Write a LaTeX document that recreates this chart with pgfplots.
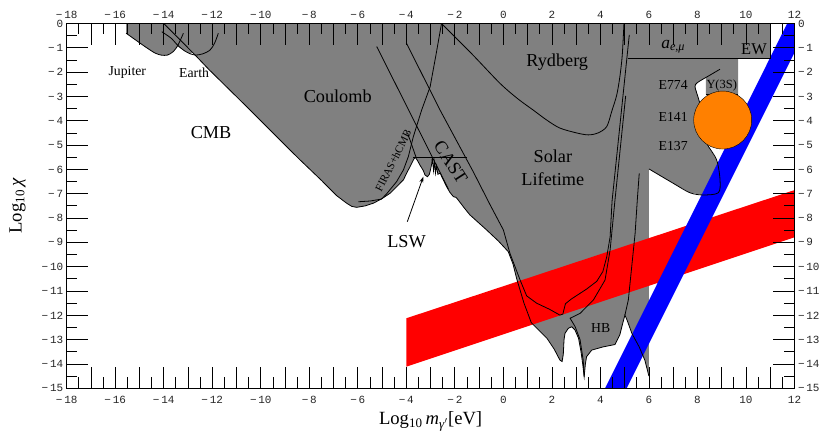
\documentclass[border=0pt]{standalone}
\usepackage{fontspec}
\setmainfont{Liberation Serif}
\newfontfamily\monofont{Liberation Mono}
\usepackage{pgfplots}
\pgfplotsset{compat=1.18}
\usetikzlibrary{arrows.meta}
\definecolor{myorange}{RGB}{255,128,0}
\definecolor{mygray}{RGB}{128,128,128}
\tikzset{
  big/.style={font=\fontsize{18.3}{23}\selectfont},
  lab/.style={font=\fontsize{18.7}{23}\selectfont},
  mid/.style={font=\fontsize{13.8}{15}\selectfont},
  bl/.style={black, line width=0.8bp},
}
\pgfplotsset{
  base/.style={
    scale only axis, width=727.8bp, height=364.8bp,
    xmin=-18, xmax=12, ymin=-15, ymax=0,
    axis on top, tick align=inside,
    xtick={-18,-16,...,12},
    extra x ticks={-17,-15,...,11}, extra x tick labels={},
    minor xtick={-17.5,-16.5,...,11.5},
    ytick={-15,-14,...,0},
    minor ytick={-14.5,-13.5,...,-0.5},
    major tick length=21.7bp, minor tick length=10.8bp,
    every tick/.style={black, line width=0.8bp},
    axis line style={black, line width=0.8bp},
    xticklabels={−\,18,−\,16,−\,14,−\,12,−\,10,−\,8,−\,6,−\,4,−\,2,0,2,4,6,8,10,12},
    yticklabels={−\,15,−\,14,−\,13,−\,12,−\,11,−\,10,−\,9,−\,8,−\,7,−\,6,−\,5,−\,4,−\,3,−\,2,−\,1,0},
    tick label style={font=\monofont\fontsize{11}{12}\selectfont, text=black!85},
  },
}
\begin{document}
\begin{tikzpicture}
\begin{axis}[base, name=main,
  xticklabel style={yshift=-4bp},
  xlabel={Log\textsubscript{10}\,\textit{m}\textsubscript{\textit{γ}$'$}[eV]},
  ylabel={Log\textsubscript{10}\,\textit{χ}},
  xlabel style={lab, at={(axis description cs:0.5,-0.1)}, anchor=base},
  ylabel style={lab, at={(axis description cs:-0.0618,0.5)}, anchor=base},
]
% gray excluded region
\addplot[fill=mygray, draw=none] coordinates {
(-15.55,0) (-15.55,-0.4) (-15.1,-0.72) (-14.7,-1.0) (-14.35,-1.22) (-14.1,-1.3) (-13.85,-1.3) (-13.6,-1.15) (-13.42,-0.95) (-13.15,-1.12) (-12.9,-1.25) (-12.8,-1.2) (-12.15,-1.88) (-10.5,-3.5) (-8.93,-5.07) (-8.38,-5.61) (-7.5,-6.45) (-6.87,-7.08) (-6.46,-7.39) (-6.25,-7.52) (-6.05,-7.56) (-5.7,-7.5) (-5.36,-7.39) (-5.0,-7.2) (-4.67,-6.98) (-4.4,-6.71) (-4.12,-6.43) (-3.99,-6.16) (-3.85,-5.89) (-3.71,-5.61) (-3.64,-5.5) (-3.55,-5.62) (-3.44,-5.82) (-3.3,-6.05) (-3.23,-6.23) (-3.13,-6.3) (-3.05,-6.2) (-3.0,-6.0) (-2.95,-5.75) (-2.93,-5.5) (-2.88,-6.05) (-2.84,-5.7) (-2.8,-6.15) (-2.76,-5.85) (-2.7,-6.2) (-2.6,-6.15) (-2.54,-6.3) (-2.34,-6.71) (-2.2,-6.95) (-2.06,-7.12) (-1.95,-7.15) (-1.86,-7.26) (-1.6,-7.6) (-1.38,-7.87) (-0.69,-8.49) (-0.2,-8.95) (0.2,-9.38) (0.4,-9.9) (0.55,-10.5) (0.85,-11.5) (1.15,-12.3) (1.5,-12.65) (1.8,-12.95) (2.1,-13.4) (2.33,-13.84) (2.42,-13.9) (2.47,-13.6) (2.5,-13.0) (2.54,-12.74) (2.68,-12.53) (2.82,-12.47) (2.95,-12.6) (3.1,-12.95) (3.2,-13.5) (3.27,-14.0) (3.33,-14.52) (3.38,-14.0) (3.43,-13.7) (3.64,-13.43) (4.1,-13.3) (4.6,-13.2) (4.8,-12.8) (4.9,-12.4) (5.01,-11.99) (5.1,-12.2) (5.3,-12.75) (5.6,-13.3) (5.83,-13.84) (6.0,-14.5) (6.0,-5.98) (7.0,-6.57) (7.69,-6.96) (8.24,-7.05) (8.86,-6.96) (8.93,-6.43) (8.79,-5.61) (8.38,-4.93) (8.24,-4.45) (8.24,-3.83) (8.04,-3.08) (7.9,-2.6) (8.0,-2.43) (8.35,-2.22) (8.35,-2.91) (9.68,-2.91) (9.68,-1.43) (11,-1.43) (11,0)
} -- cycle;
% red band
\addplot[fill=red, draw=none] coordinates {(-4,-12.12) (12,-6.85) (12,-8.79) (-4,-14.11)} -- cycle;
% blue band
\addplot[fill=blue, draw=none] coordinates {(4.19,-15) (11.7,0) (12.6,0) (5.08,-15)} -- cycle;
% orange blob
\addplot[only marks, mark=*, mark size=29bp, mark options={fill=myorange, draw=none}] coordinates {(9.04,-3.97)};
% outline of the gray region
\addplot[bl] coordinates {
(-14,0) (-12.8,-1.2) (-12.15,-1.88) (-10.5,-3.5) (-8.93,-5.07) (-8.38,-5.61) (-7.5,-6.45) (-6.87,-7.08) (-6.46,-7.39) (-6.25,-7.52) (-6.05,-7.56) (-5.7,-7.5) (-5.36,-7.39) (-5.0,-7.2) (-4.67,-6.98) (-4.4,-6.71) (-4.12,-6.43) (-3.99,-6.16) (-3.85,-5.89) (-3.71,-5.61) (-3.64,-5.5) (-3.55,-5.62) (-3.44,-5.82) (-3.3,-6.05) (-3.23,-6.23) (-3.13,-6.3) (-3.05,-6.2) (-3.0,-6.0) (-2.95,-5.75) (-2.93,-5.5) (-2.88,-6.05) (-2.84,-5.7) (-2.8,-6.15) (-2.76,-5.85) (-2.7,-6.2) (-2.6,-6.15) (-2.54,-6.3) (-2.34,-6.71) (-2.2,-6.95) (-2.06,-7.12) (-1.95,-7.15) (-1.86,-7.26) (-1.6,-7.6) (-1.38,-7.87) (-0.69,-8.49) (-0.2,-8.95) (0.2,-9.38) (0.4,-9.9) (0.55,-10.5) (0.85,-11.5) (1.15,-12.3) (1.5,-12.65) (1.8,-12.95) (2.1,-13.4) (2.33,-13.84) (2.42,-13.9) (2.47,-13.6) (2.5,-13.0) (2.54,-12.74) (2.68,-12.53) (2.82,-12.47) (2.95,-12.6) (3.1,-12.95) (3.2,-13.5) (3.27,-14.0) (3.33,-14.52) (3.38,-14.0) (3.43,-13.7) (3.64,-13.43) (4.1,-13.3) (4.6,-13.2) (4.8,-12.8) (4.9,-12.4) (5.01,-11.99) (5.1,-12.2) (5.3,-12.75) (5.6,-13.3) (5.83,-13.84) (6.0,-14.5)};
% Jupiter
\addplot[bl, smooth] coordinates {(-15.55,-0.4) (-15.1,-0.72) (-14.7,-1.0) (-14.35,-1.22) (-14.1,-1.3) (-13.85,-1.3) (-13.6,-1.15) (-13.42,-0.9) (-13.3,-0.65) (-13.19,-0.4)};
% Earth
\addplot[bl, smooth] coordinates {(-14.08,-0.34) (-13.7,-0.6) (-13.42,-0.9) (-13.15,-1.12) (-12.9,-1.25) (-12.7,-1.3) (-12.4,-1.25) (-12.09,-1.09) (-11.9,-0.8) (-11.75,-0.4)};
% FIRAS + hCMB
\addplot[bl] coordinates {(-5.98,-7.33) (-5.5,-7.3) (-5.02,-7.22) (-4.81,-7.0) (-4.4,-6.5) (-4.12,-6.02) (-3.92,-5.48) (-3.71,-4.65) (-3.57,-4.2) (-3.37,-3.56) (-3.02,-2.6) (-2.78,-1.3) (-2.55,0)};
\addplot[bl] coordinates {(-3.95,-4.5) (-3.6,-5.5)};
% CAST lines
\addplot[bl] coordinates {(-5.22,-0.95) (-2.27,-6.8)};
\addplot[bl] coordinates {(-3.71,-5.52) (-1.51,-5.52)};
% solar lifetime curve
\addplot[bl] coordinates {(-4,-0.8) (-2.61,-3.56) (-1.24,-6.1) (-0.55,-7.45) (0,-8.49) (0.27,-9.45) (0.69,-10.55) (0.96,-11.2) (1.37,-11.5) (1.9,-11.75) (2.33,-11.99) (2.45,-11.95) (2.5,-11.75) (2.56,-11.52) (2.8,-11.33) (3.43,-10.92) (3.85,-10.6) (4.1,-10.2) (4.26,-9.6) (4.40,-8.77) (4.48,-7.3) (5.19,-0.47)};
% second curve (into HB)
\addplot[bl] coordinates {(5.04,-2.98) (4.6,-7.26) (4.40,-9.31) (4.19,-10.55) (3.71,-11.37) (3.16,-11.92) (2.75,-12.12) (2.96,-12.47) (3.16,-13.0) (3.29,-13.84) (3.33,-14.52)};
\addplot[bl] coordinates {(5.6,-6.16) (5.52,-7.26) (5.43,-8.63) (5.29,-10.0) (5.15,-11.37) (5.01,-11.99)};
% Rydberg
\addplot[bl, smooth] coordinates {(-2.55,0) (-1.3,-1.25) (-0.14,-2.46) (0.6,-3.1) (1.23,-3.56) (1.8,-3.98) (2.33,-4.3) (3.02,-4.5) (3.5,-4.58) (3.9,-4.5) (4.26,-4.24) (4.47,-3.6) (4.67,-2.95) (4.8,-2.2) (4.9,-1.3) (4.97,0)};
% beam dump curve
\addplot[bl, smooth] coordinates {(6.0,-5.98) (7.0,-6.57) (7.69,-6.96) (8.24,-7.05) (8.86,-6.96) (8.93,-6.43) (8.79,-5.61) (8.38,-4.93) (8.24,-4.45) (8.24,-3.83) (8.04,-3.08) (7.9,-2.6) (8.0,-2.43) (8.52,-2.12) (8.93,-1.88)};
% a_e and EW, Upsilon
\addplot[bl] coordinates {(5.15,-1.43) (11,-1.43) (11,0)};
\addplot[bl] coordinates {(8.35,-2.91) (9.68,-2.91)};
% LSW arrow
\addplot[bl, -{Stealth[length=6bp,width=4bp]}] coordinates {(-3.96,-8.15) (-3.3,-6.3)};
% labels
\node[mid] at (axis cs:-15.5,-2.01) {Jupiter};
\node[mid] at (axis cs:-12.75,-2.01) {Earth};
\node[big] at (axis cs:-12.05,-4.47) {CMB};
\node[big] at (axis cs:-6.83,-3.01) {Coulomb};
\node[big] at (axis cs:2.22,-1.57) {Rydberg};
\node[big, align=center] at (axis cs:2.04,-5.95) {Solar\\Lifetime};
\node[big, rotate=-57] at (axis cs:-2.17,-5.7) {CAST};
\node[font=\fontsize{11}{12}\selectfont, rotate=63] at (axis cs:-4.54,-5.64) {FIRAS+hCMB};
\node[big] at (axis cs:-3.99,-8.97) {LSW};
\node[mid] at (axis cs:4.01,-12.51) {HB};
\node[mid] at (axis cs:7.0,-2.53) {E774};
\node[mid] at (axis cs:7.0,-3.86) {E141};
\node[mid] at (axis cs:7.0,-5.04) {E137};
\node[font=\fontsize{12.5}{14}\selectfont] at (axis cs:9.0,-2.56) {Υ(3S)};
\node[font=\fontsize{17.5}{20}\selectfont] at (axis cs:7.0,-0.95) {\textit{a}\textsubscript{\textit{e},\textit{μ}}};
\node[font=\fontsize{16.5}{18}\selectfont] at (axis cs:10.33,-1.05) {EW};
\end{axis}
\begin{axis}[base, at={(main.south west)}, anchor=south west,
  xticklabel pos=upper, yticklabel pos=right,
  xticklabel style={yshift=1.5bp}]
\end{axis}
\pgfresetboundingbox
\path ([shift={(-66.7bp,-47.7bp)}]main.south west) rectangle ([shift={(30.5bp,23.5bp)}]main.north east);
\end{tikzpicture}
\end{document}
